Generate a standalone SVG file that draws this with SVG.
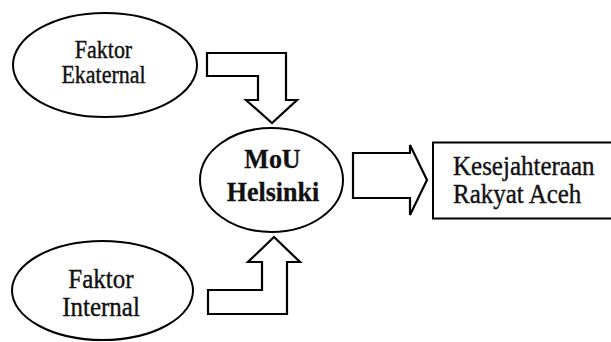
<svg xmlns="http://www.w3.org/2000/svg" width="611" height="342" viewBox="0 0 611 342">
<style>
.shape{fill:none;stroke:#000;stroke-width:2;}
.arrow{fill:none;stroke:#000;stroke-width:2.2;stroke-linejoin:miter;}
.t{font-family:"Liberation Serif","Times New Roman",serif;fill:#111;stroke:#111;stroke-width:0.35;text-anchor:middle;}
.b{font-weight:bold;stroke-width:0.3;}
.s{text-anchor:start;}
</style>
<rect x="0" y="0" width="611" height="342" fill="#fff"/>
<g id="faktor-eksternal">
<ellipse class="shape" cx="105" cy="65" rx="92" ry="52"/>
<text class="t" font-size="22" transform="translate(103.5,58) scale(1,1.1)">Faktor</text>
<text class="t" font-size="22" transform="translate(103.5,83) scale(1,1.1)">Ekaternal</text>
</g>
<g id="faktor-internal">
<ellipse class="shape" cx="102.5" cy="290.5" rx="90.5" ry="49.5"/>
<text class="t" font-size="25" transform="translate(101,288) scale(1,1.05)">Faktor</text>
<text class="t" font-size="25" transform="translate(101,316) scale(1,1.05)">Internal</text>
</g>
<g id="mou-helsinki">
<ellipse class="shape" cx="271.5" cy="180" rx="71.5" ry="52"/>
<text class="t b" font-size="26" transform="translate(272.5,168) scale(1,1.05)">MoU</text>
<text class="t b" font-size="26" transform="translate(273,201) scale(1,1.05)">Helsinki</text>
</g>
<g id="kesejahteraan">
<rect class="shape" x="433" y="142.5" width="190" height="76"/>
<text class="t s" font-size="25" transform="translate(453,175) scale(1,1.08)">Kesejahteraan</text>
<text class="t s" font-size="25" transform="translate(453,203) scale(1,1.08)">Rakyat Aceh</text>
</g>
<g id="connectors">
<polygon class="arrow" points="207,53 286,53 286,100 297,100 272,123 246,100 258,100 258,76 207,76"/>
<polygon class="arrow" points="208,290 262,290 262,262 248,262 274,237 300,262 287,262 287,314 208,314"/>
<polygon class="arrow" points="353,153 410,153 410,145 427,180 410,215 410,198 353,198"/>
</g>
</svg>
